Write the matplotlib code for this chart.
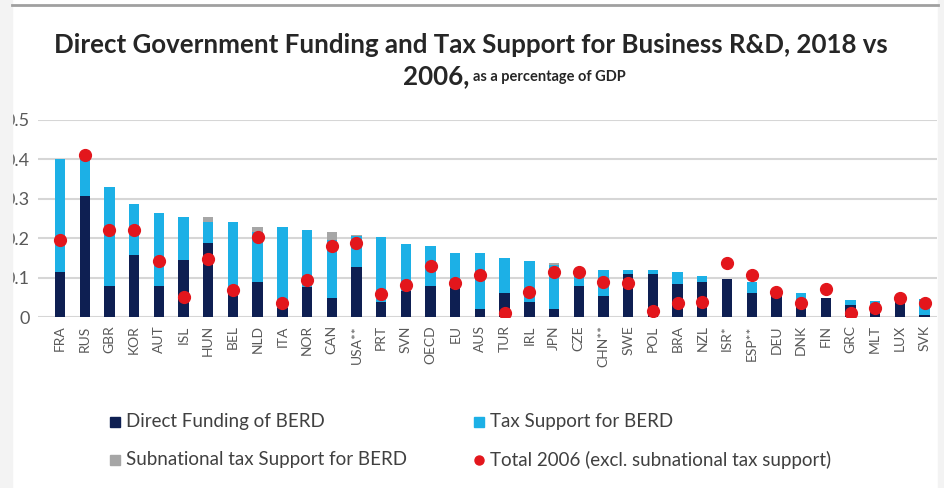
import matplotlib
matplotlib.use("Agg")
import matplotlib.pyplot as plt
from matplotlib.patches import Rectangle
from matplotlib.lines import Line2D
import numpy as np

plt.rcParams['font.family'] = ['Lato', 'DejaVu Sans']

countries = ['FRA', 'RUS', 'GBR', 'KOR', 'AUT', 'ISL', 'HUN', 'BEL', 'NLD', 'ITA',
             'NOR', 'CAN', 'USA**', 'PRT', 'SVN', 'OECD', 'EU', 'AUS', 'TUR', 'IRL',
             'JPN', 'CZE', 'CHN**', 'SWE', 'POL', 'BRA', 'NZL', 'ISR*', 'ESP**', 'DEU',
             'DNK', 'FIN', 'GRC', 'MLT', 'LUX', 'SVK']
direct = [0.115, 0.306, 0.079, 0.158, 0.079, 0.145, 0.187, 0.061, 0.090, 0.022,
          0.077, 0.048, 0.126, 0.039, 0.067, 0.079, 0.073, 0.020, 0.060, 0.039,
          0.020, 0.079, 0.053, 0.109, 0.109, 0.084, 0.090, 0.097, 0.060, 0.055,
          0.039, 0.048, 0.030, 0.012, 0.050, 0.005]
tax = [0.285, 0.094, 0.251, 0.130, 0.185, 0.109, 0.053, 0.179, 0.127, 0.206,
       0.144, 0.148, 0.079, 0.165, 0.119, 0.101, 0.089, 0.142, 0.089, 0.103,
       0.112, 0.041, 0.067, 0.011, 0.011, 0.031, 0.013, 0.000, 0.030, 0.000,
       0.021, 0.000, 0.013, 0.029, 0.000, 0.041]
subnational = [0, 0, 0, 0, 0, 0, 0.014, 0, 0.011, 0,
               0, 0.019, 0.004, 0, 0, 0, 0, 0, 0, 0,
               0.006, 0, 0, 0, 0, 0, 0, 0, 0, 0,
               0, 0, 0, 0, 0, 0]
total_2006 = [0.196, 0.412, 0.220, 0.220, 0.141, 0.052, 0.147, 0.069, 0.203, 0.035,
              0.094, 0.179, 0.189, 0.058, 0.081, 0.130, 0.087, 0.107, 0.009, 0.064,
              0.113, 0.113, 0.088, 0.087, 0.016, 0.035, 0.039, 0.137, 0.107, 0.064,
              0.035, 0.070, 0.011, 0.022, 0.048, 0.036]
yticks = [0, 0.1, 0.2, 0.3, 0.4, 0.5]
ytick_labels = ['0', '0.1', '0.2', '0.3', '0.4', '0.5']

navy = '#0e1f52'
sky = '#1cb0e6'
grey = '#a6a6a6'
red = '#e3161c'
W, H = 945, 488

fig = plt.figure(figsize=(W / 100, H / 100), dpi=100)
fig.patch.set_facecolor('white')

# axes placed in pixel units
left, right, top, bottom = 38, 937, 120, 317
ax = fig.add_axes([left / W, 1 - bottom / H, (right - left) / W, (bottom - top) / H])

x = np.arange(len(countries))
d = np.array(direct)
t = np.array(tax)
s = np.array(subnational)
bw = 0.42
ax.bar(x, d, bw, color=navy, zorder=2)
ax.bar(x, t, bw, bottom=d, color=sky, zorder=2)
ax.bar(x, s, bw, bottom=d + t, color=grey, zorder=2)
ax.plot(x, total_2006, ls='none', marker='o', ms=8.5, color=red, zorder=3)

ax.set_xlim(-0.89, 35.5)
ax.set_ylim(0, 0.5)
ax.set_yticks(yticks)
ax.set_yticklabels(ytick_labels)
ax.grid(axis='y', color='#d6d6d6', lw=1.5, zorder=0)
for sp in ax.spines.values():
    sp.set_visible(False)
ax.set_xticks(x)
ax.set_xticklabels(countries, rotation=90, fontsize=10, color='#595959')
ax.tick_params(axis='x', length=0, pad=6)
ax.tick_params(axis='y', length=0, pad=6, labelsize=13, labelcolor='#595959')

# title
fig.text(471 / W, 1 - 45 / H,
         'Direct Government Funding and Tax Support for Business R&D, 2018 vs',
         ha='center', va='center', fontsize=18.6, fontweight='bold', color='#262626')
fig.text(469 / W, 1 - 76 / H, '2006,', ha='right', va='center',
         fontsize=18.6, fontweight='bold', color='#262626')
fig.text(473 / W, 1 - 77 / H, 'as a percentage of GDP', ha='left', va='center',
         fontsize=10.5, fontweight='bold', color='#262626')

# legend drawn by hand
legend_items = [
    (115, 422, 's', navy, 'Direct Funding of BERD'),
    (479, 422, 's', sky, 'Tax Support for BERD'),
    (115, 460, 's', grey, 'Subnational tax Support for BERD'),
    (479, 460, 'o', red, 'Total 2006 (excl. subnational tax support)'),
]
for lx, ly, mk, col, lab in legend_items:
    fig.add_artist(Line2D([lx / W], [1 - ly / H], marker=mk, ms=7 if mk == 's' else 6.5,
                          color=col, ls='none', transform=fig.transFigure))
    fig.text((lx + 11) / W, 1 - ly / H, lab, ha='left', va='center',
             fontsize=13.5, color='#404040')

# frame: grey side strips and top rule
fig.add_artist(Rectangle((0, 0), 12 / W, 1, transform=fig.transFigure,
                         color='#f3f3f3', zorder=10))
fig.add_artist(Rectangle((938 / W, 0), 7 / W, 1, transform=fig.transFigure,
                         color='#f3f3f3', zorder=10))
fig.add_artist(Line2D([12 / W, 938 / W], [1 - 5 / H, 1 - 5 / H], color='#a0a0a0',
                      lw=2, transform=fig.transFigure, zorder=11))

fig.savefig('out.png', dpi=100)
